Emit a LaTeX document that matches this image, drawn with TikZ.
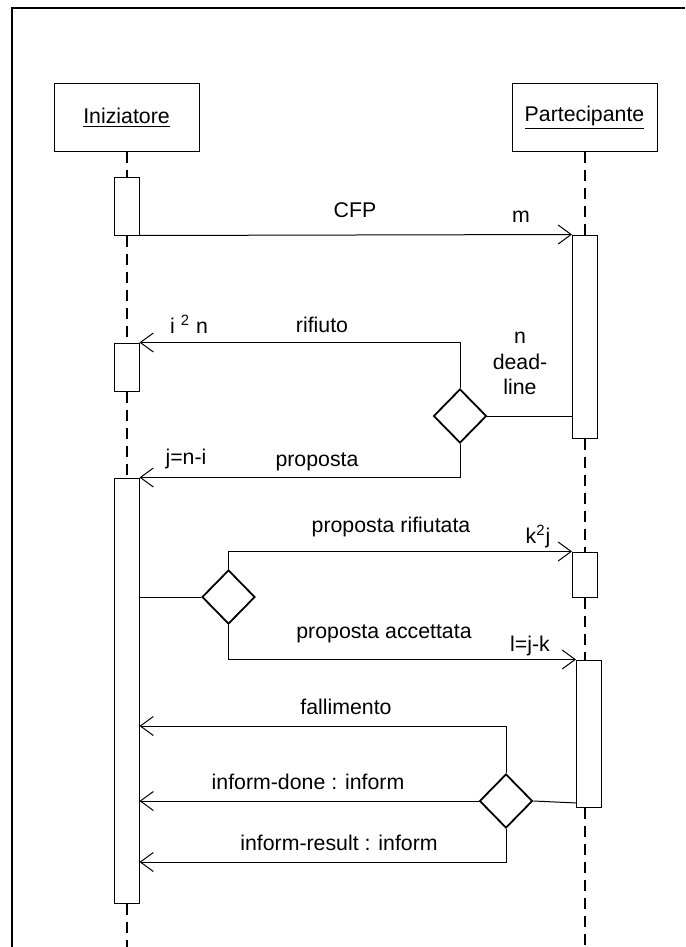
\documentclass[tikz,border=0pt]{standalone}
\usepackage{fontspec}
\setmainfont{Liberation Sans}
\usetikzlibrary{shapes.geometric,arrows.meta}

\begin{document}
\begin{tikzpicture}[x=0.5pt,y=-0.5pt]
\tikzset{actor/.style={draw, line width=0.5pt, minimum width=72.5pt, minimum height=33.5pt, inner sep=0pt},
  attiva/.style={draw, fill=white, line width=0.5pt, minimum width=12.5pt, inner sep=0pt},
  scelta/.style={draw, diamond, line width=0.9pt, minimum width=26.5pt, minimum height=27pt, inner sep=0pt},
  vita/.style={line width=1pt, dash pattern=on 5.5pt off 3.5pt},
  msg/.style={line width=0.5pt, -{Straight Barb[length=6.5pt,width=9.5pt]}},
  filo/.style={line width=0.5pt},
  etich/.style={anchor=base, inner sep=0pt, font=\fontsize{10.65}{12.75}\selectfont}}
\useasboundingbox (0,0) rectangle (685,947);
\draw[line width=1pt] (12,947) -- (12,8) -- (685,8);
% oggetti
\node[actor] (ini) at (126.5,117.5) {\fontsize{10.65}{12.75}\selectfont\underline{Iniziatore}};
\node[actor] (par) at (584.5,117.5) {\fontsize{10.65}{12.75}\selectfont\underline{Partecipante}};
\coordinate (iend) at (126.5,947);
\coordinate (pend) at (585,947);
% barre di attivazione
\node[attiva, minimum height=29pt] (act1) at (126.5,206) {};
\node[attiva, minimum height=24pt] (act2) at (126.5,367) {};
\node[attiva, minimum height=212.5pt] (act3) at (126.5,690.5) {};
\node[attiva, minimum height=101.5pt] (pact1) at (585,336.5) {};
\node[attiva, minimum height=22.5pt] (pact2) at (585,574.5) {};
\node[attiva, minimum height=73.5pt] (pact3) at (589,733.5) {};
% linee di vita
\draw[vita] (ini.south) -- (act1.north);
\draw[vita] (act1.south) -- (act2.north);
\draw[vita] (act2.south) -- (act3.north);
\draw[vita] (act3.south) -- (iend);
\draw[vita] (par.south -| pact1.north) -- (pact1.north);
\draw[vita] (pact1.south) -- (pact2.north);
\draw[vita] (pact2.south) -- (pact2.south |- pact3.north);
\draw[vita] (pact2.south |- pact3.south) -- (pend);
% decisioni
\node[scelta] (d1) at (460,416) {};
\node[scelta] (d2) at (228.5,597) {};
\node[scelta] (d3) at (506,801) {};
\coordinate (f) at (506,726);
\coordinate (r) at (506,862);
\coordinate (d3in) at (577,803);
% messaggi
\draw[msg] (act1.south east) -- (pact1.north west);
\draw[filo] (d1.east) -- (d1.east -| pact1.west);
\draw[msg] (d1.north) |- (act2.north east);
\draw[msg] (d1.south) |- (act3.north east);
\draw[filo] (act3.east |- d2) -- (d2.west);
\draw[msg] (d2.north) |- (pact2.north west);
\draw[msg] (d2.south) |- (pact3.north west);
\draw[filo] (d3.east) -- (d3in);
\draw[msg] (d3.north) -- (f) -- (f -| act3.east);
\draw[msg] (d3.west) -- (d3.west -| act3.east);
\draw[msg] (d3.south) -- (r) -- (r -| act3.east);
% etichette
\node[etich] (lcfp) at (355,217) {CFP};
\node[etich] (lm) at (521,222) {m};
\node[etich] (li) at (189,333) {i \textsuperscript{2} n};
\node[etich] (lrif) at (322,332) {rifiuto};
\node[etich] (ln) at (520,343) {n};
\node[etich] (ldead) at (520,369) {dead-};
\node[etich] (lline) at (520,394) {line};
\node[etich] (lj) at (186,464) {j=n-i};
\node[etich] (lprop) at (317,466) {proposta};
\node[etich] (lpr) at (391,532) {proposta rifiutata};
\node[etich] (lk) at (538,543) {k\textsuperscript{2}j};
\node[etich] (lpa) at (384,638) {proposta accettata};
\node[etich] (ll) at (530,651) {l=j-k};
\node[etich] (lfal) at (346,714) {fallimento};
\node[etich] (ldone) at (308,789) {inform-done : inform};
\node[etich] (lres) at (339,850) {inform-result : inform};
\end{tikzpicture}
\end{document}
